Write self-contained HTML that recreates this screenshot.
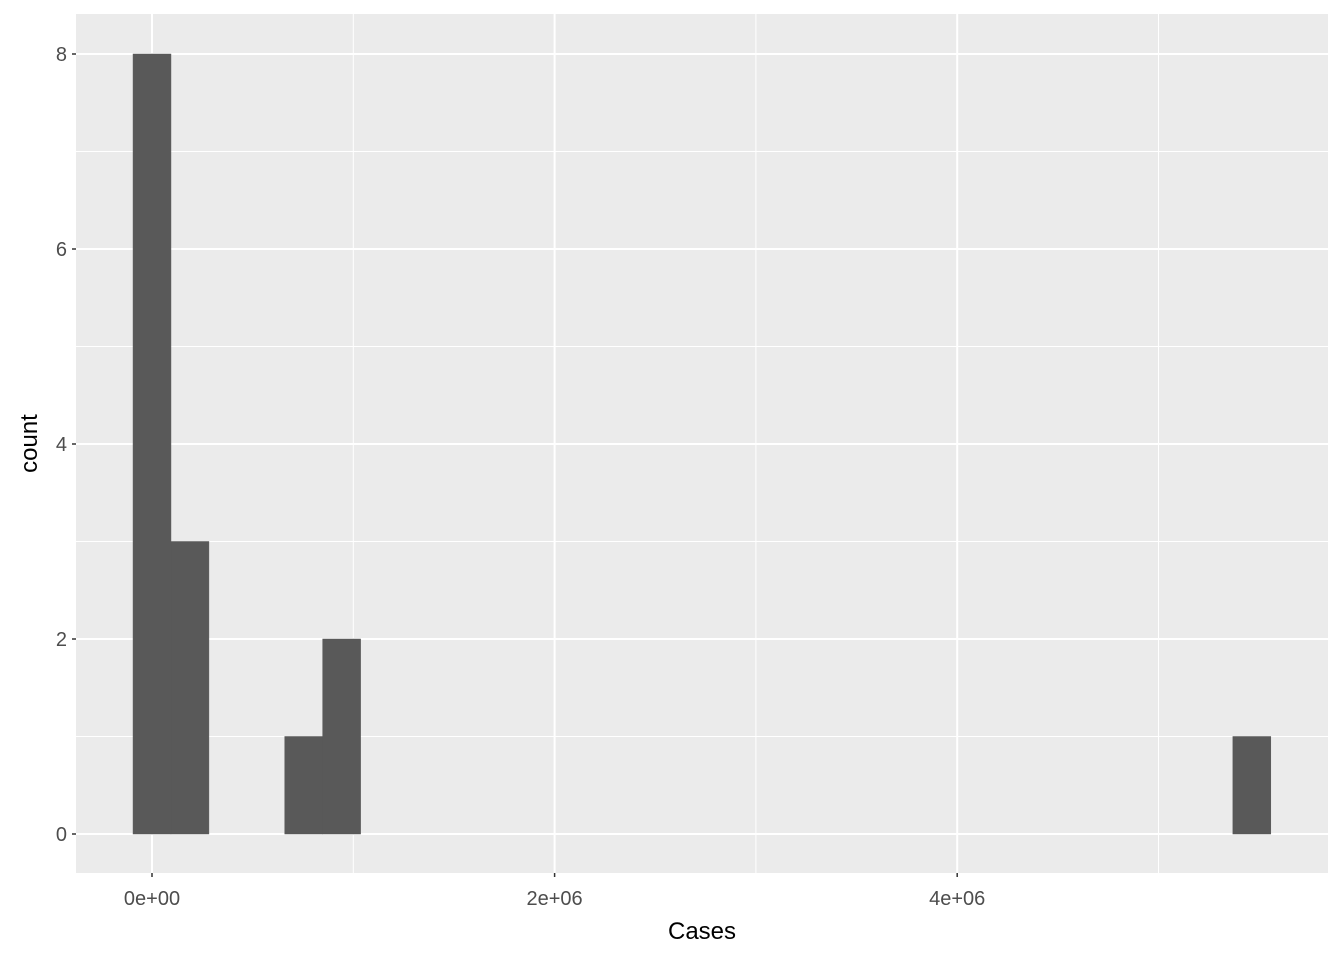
<!DOCTYPE html>
<html><head><meta charset="utf-8"><style>
body{margin:0;background:#fff;font-family:"Liberation Sans",Arial,sans-serif}
</style></head><body>
<svg id="chart" width="1344" height="960" xmlns="http://www.w3.org/2000/svg"></svg>
<script>
const counts=[8,3,0,0,1,2,0,0,0,0,0,0,0,0,0,0,0,0,0,0,0,0,0,0,0,0,0,0,0,1];
const binStart=-94200;
const binWidth=188400;
const xTicks=[0,2e6,4e6];
const xTickLabels=["0e+00","2e+06","4e+06"];
const xMinor=[1e6,3e6,5e6];
const yTicks=[0,2,4,6,8];
const yMinor=[1,3,5,7];

const svg=document.getElementById('chart');
const NS="http://www.w3.org/2000/svg";
const P={l:76,r:1328,t:14,b:873};
const sx=v=>152+v*201.3e-6;
const sy=v=>834-v*97.5;
function mk(tag,attrs,parent){const e=document.createElementNS(NS,tag);for(const k in attrs)e.setAttribute(k,attrs[k]);(parent||svg).appendChild(e);return e;}
const panel=mk('rect',{x:P.l,y:P.t,width:P.r-P.l,height:P.b-P.t,fill:'#ebebeb'});


xMinor.forEach(v=>{const l=mk('line',{x1:sx(v),x2:sx(v),y1:P.t,y2:P.b,stroke:'#fff','stroke-width':1});

});
yMinor.forEach(v=>{const l=mk('line',{x1:P.l,x2:P.r,y1:sy(v),y2:sy(v),stroke:'#fff','stroke-width':1});

});
xTicks.forEach(v=>{const l=mk('line',{x1:sx(v),x2:sx(v),y1:P.t,y2:P.b,stroke:'#fff','stroke-width':2});

});
yTicks.forEach(v=>{const l=mk('line',{x1:P.l,x2:P.r,y1:sy(v),y2:sy(v),stroke:'#fff','stroke-width':2});

});
counts.forEach((c,i)=>{if(!c)return;
const x0=sx(binStart+i*binWidth),x1=sx(binStart+(i+1)*binWidth);
const r=mk('rect',{x:x0,y:sy(c),width:x1-x0,height:sy(0)-sy(c),fill:'#595959',stroke:'#595959','stroke-width':0.5});

});
yTicks.forEach(v=>{
const t=mk('line',{x1:P.l-4,x2:P.l,y1:sy(v),y2:sy(v),stroke:'#333','stroke-width':1.5});


const tx=mk('text',{x:P.l-9,y:sy(v)+7,'text-anchor':'end','font-size':20,fill:'#4d4d4d'});
tx.textContent=String(v);

});
xTicks.forEach((v,i)=>{
const t=mk('line',{x1:sx(v),x2:sx(v),y1:P.b,y2:P.b+4,stroke:'#333','stroke-width':1.5});


const tx=mk('text',{x:sx(v),y:P.b+32,'text-anchor':'middle','font-size':20,fill:'#4d4d4d'});
tx.textContent=xTickLabels[i];

});
const xt=mk('text',{x:(P.l+P.r)/2,y:939,'text-anchor':'middle','font-size':24,fill:'#000'});
xt.textContent='Cases';


const yt=mk('text',{x:0,y:0,transform:`translate(37,${(P.t+P.b)/2}) rotate(-90)`,'text-anchor':'middle','font-size':24,fill:'#000'});
yt.textContent='count';


</script>
</body></html>
